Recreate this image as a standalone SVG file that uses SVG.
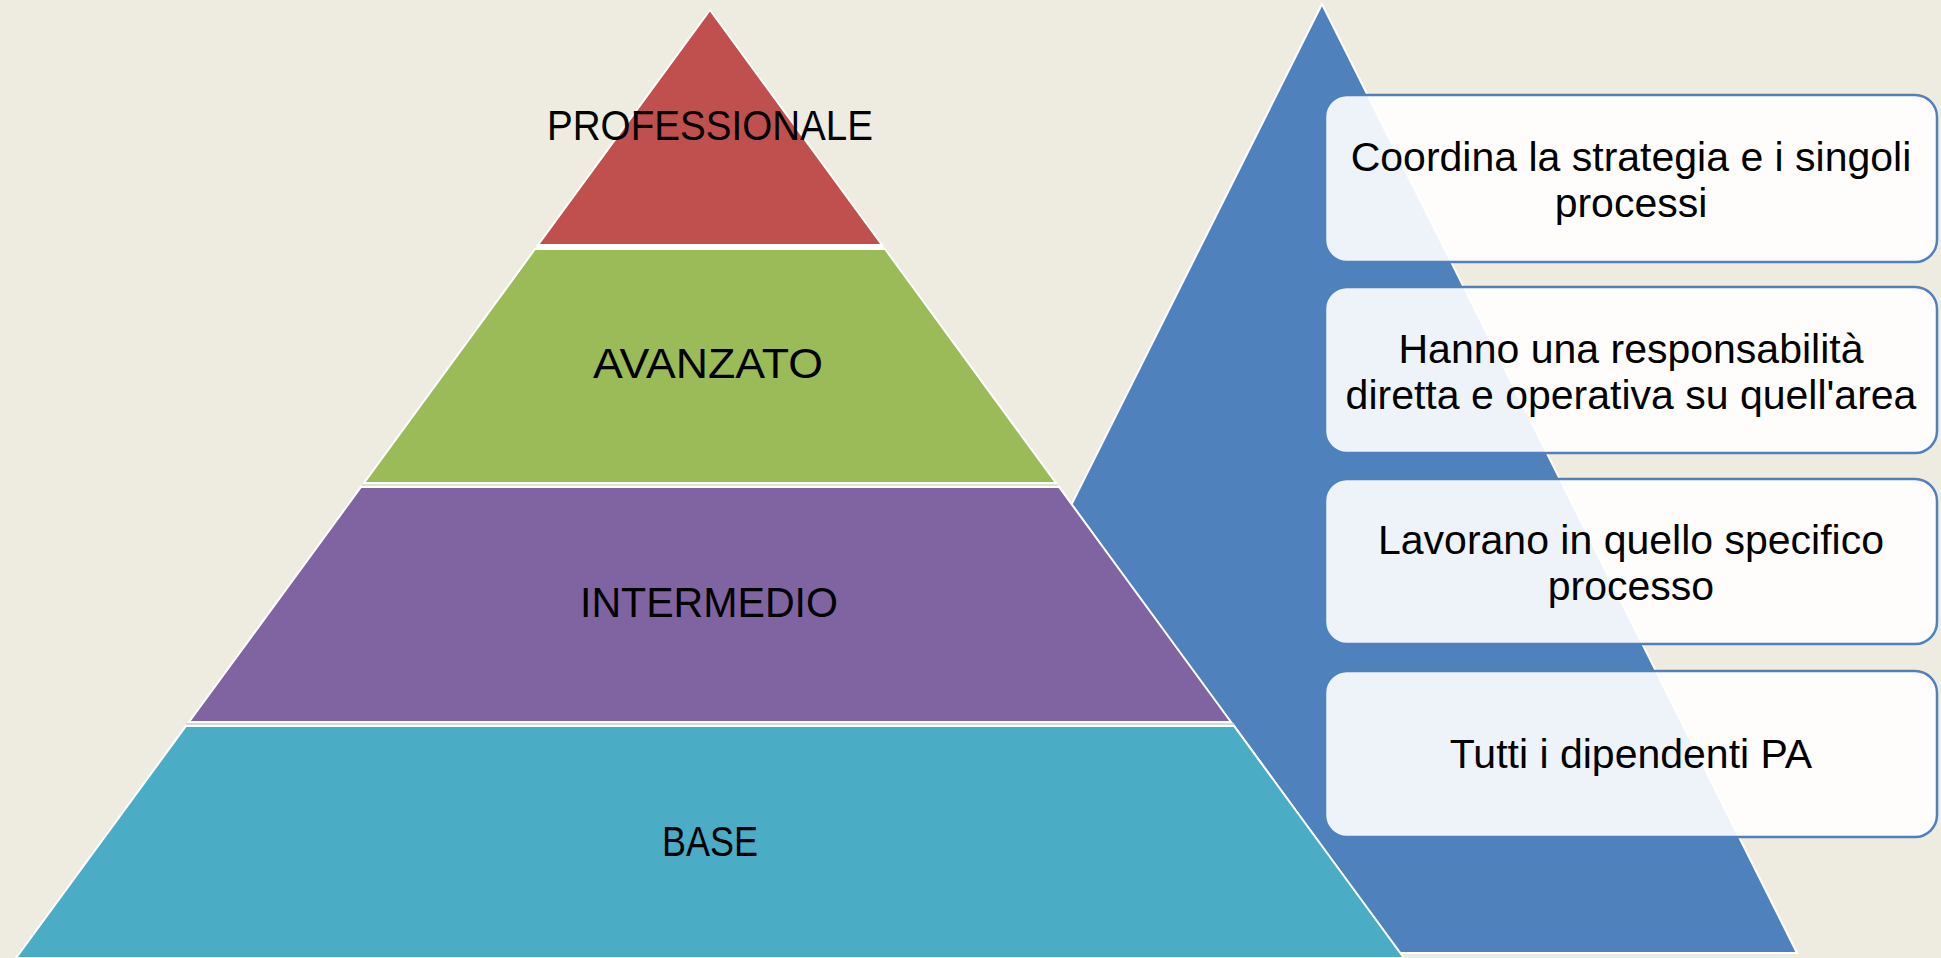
<svg xmlns="http://www.w3.org/2000/svg" width="1941" height="958" viewBox="0 0 1941 958">
<style>
.tier{stroke:#FFFFFF;stroke-width:2;stroke-linejoin:miter}
.lbl{font-family:"Liberation Sans",Arial,sans-serif;font-size:42px;fill:#000000;text-anchor:middle}
.box{fill:#FFFFFF;fill-opacity:0.9;stroke:#4F81BD;stroke-width:2.5}
.btxt{font-family:"Liberation Sans",Arial,sans-serif;font-size:41px;fill:#000000;text-anchor:middle}
</style>
<rect x="0" y="0" width="1941" height="958" fill="#EEECE1"/>
<g id="arrow-triangle">
<polygon points="1322,4 1797,953 847,953" fill="#4F81BD" stroke="#FFFFFF" stroke-width="2"/>
</g>
<g id="pyramid-backing">
<polygon points="186,724 1234,724 1404,958 16,958" fill="#FFFFFF"/>
<polygon points="361,485 1059,485 1231,724 189,724" fill="#FFFFFF"/>
<polygon points="538,245 882,245 885,249 535,249" fill="#FFFFFF"/>
<rect x="186" y="723" width="1048" height="2" fill="#C6DDEA"/>
<rect x="362" y="484" width="696" height="2" fill="#D9E6C4"/>
</g>
<g id="tier-base">
<polygon class="tier" points="186,726 1234,726 1404,958 16,958" fill="#4BACC6"/>
<text class="lbl" x="710" y="856" textLength="96" lengthAdjust="spacingAndGlyphs">BASE</text>
</g>
<g id="tier-intermedio">
<polygon class="tier" points="361,487 1059,487 1231,722 189,722" fill="#8064A2"/>
<text class="lbl" x="709" y="617" textLength="258" lengthAdjust="spacingAndGlyphs">INTERMEDIO</text>
</g>
<g id="tier-avanzato">
<polygon class="tier" points="535,249 885,249 1056,483 364,483" fill="#9BBB59"/>
<text class="lbl" x="708" y="378" textLength="230" lengthAdjust="spacingAndGlyphs">AVANZATO</text>
</g>
<g id="tier-professionale">
<polygon class="tier" points="710,10 882,245 538,245" fill="#C0504D"/>
<text class="lbl" x="710" y="140" textLength="326" lengthAdjust="spacingAndGlyphs">PROFESSIONALE</text>
</g>
<g id="box-1">
<rect class="box" x="1325" y="95" width="612" height="167" rx="22"/>
<text class="btxt" x="1631" y="171">Coordina la strategia e i singoli</text>
<text class="btxt" x="1631" y="217">processi</text>
</g>
<g id="box-2">
<rect class="box" x="1325" y="287" width="612" height="166" rx="22"/>
<text class="btxt" x="1631" y="363">Hanno una responsabilità</text>
<text class="btxt" x="1631" y="409">diretta e operativa su quell'area</text>
</g>
<g id="box-3">
<rect class="box" x="1325" y="479" width="612" height="165" rx="22"/>
<text class="btxt" x="1631" y="554">Lavorano in quello specifico</text>
<text class="btxt" x="1631" y="600">processo</text>
</g>
<g id="box-4">
<rect class="box" x="1325" y="671" width="612" height="166" rx="22"/>
<text class="btxt" x="1631" y="768">Tutti i dipendenti PA</text>
</g>
<g id="connectors"></g>
</svg>
